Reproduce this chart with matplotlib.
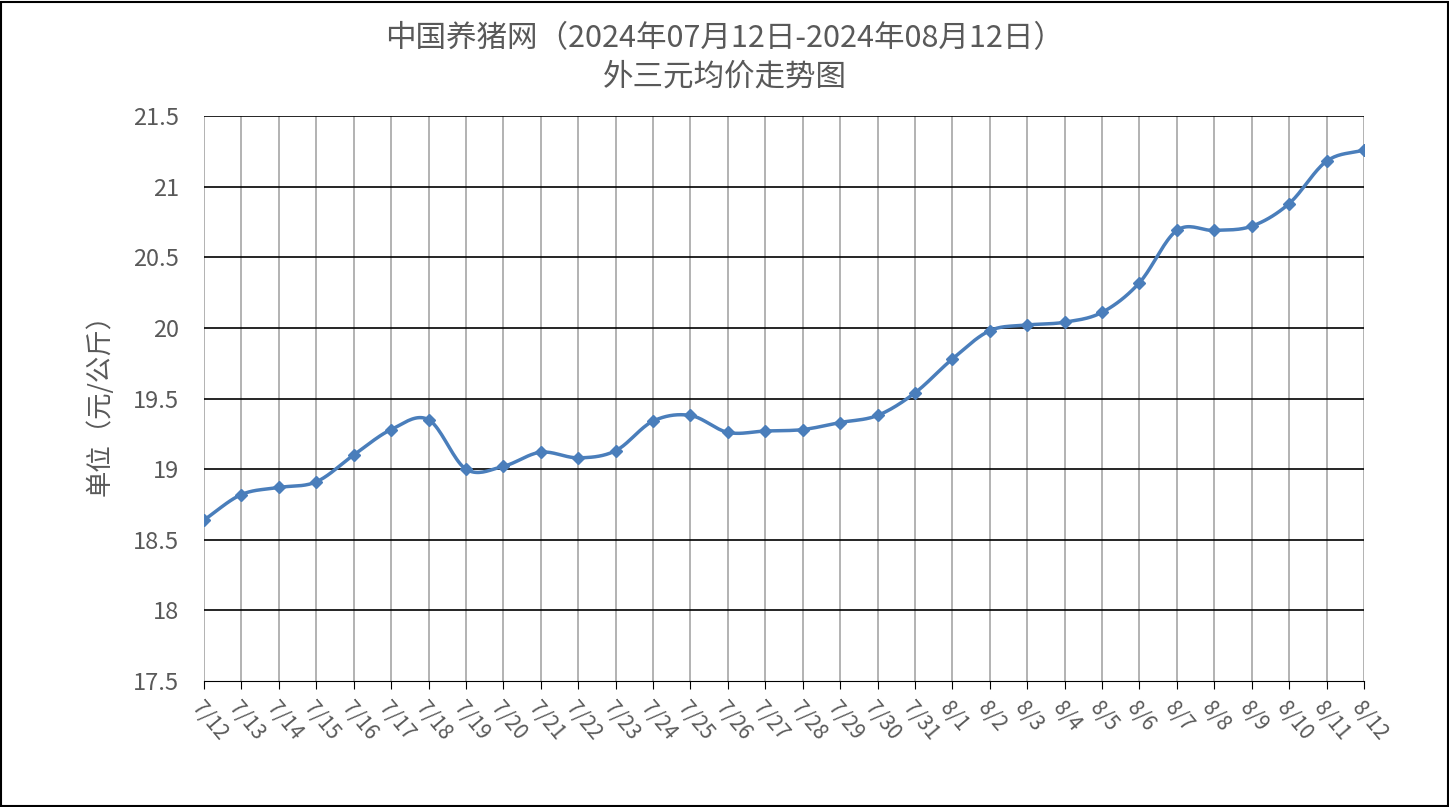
import numpy as np
import matplotlib
matplotlib.use('Agg')
import matplotlib.pyplot as plt

plt.rcParams['font.family'] = ['Noto Sans CJK SC', 'DejaVu Sans']

# DATA
dates = [f"7/{d}" for d in range(12, 32)] + [f"8/{d}" for d in range(1, 13)]
prices = [18.64, 18.82, 18.87, 18.91, 19.10, 19.28, 19.35, 19.00, 19.02, 19.12,
          19.08, 19.13, 19.34, 19.38, 19.26, 19.27, 19.28, 19.33, 19.38, 19.54,
          19.78, 19.98, 20.02, 20.04, 20.11, 20.32, 20.69, 20.69, 20.72, 20.88,
          21.18, 21.26]
yticks = [17.5, 18, 18.5, 19, 19.5, 20, 20.5, 21, 21.5]
ytick_labels = ['17.5', '18', '18.5', '19', '19.5', '20', '20.5', '21', '21.5']

LINE = '#4a7ebb'
TXT = '#595959'


def catmull(x, y, n=20):
    x = np.asarray(x, float); y = np.asarray(y, float)
    px = np.concatenate([[2 * x[0] - x[1]], x, [2 * x[-1] - x[-2]]])
    py = np.concatenate([[2 * y[0] - y[1]], y, [2 * y[-1] - y[-2]]])
    t = np.linspace(0, 1, n, endpoint=False)[:, None]
    out_x, out_y = [], []
    for i in range(1, len(px) - 2):
        for arr, out in ((px, out_x), (py, out_y)):
            p0, p1, p2, p3 = arr[i - 1:i + 3]
            v = 0.5 * ((2 * p1) + (-p0 + p2) * t + (2 * p0 - 5 * p1 + 4 * p2 - p3) * t ** 2
                       + (-p0 + 3 * p1 - 3 * p2 + p3) * t ** 3)
            out.extend(v.ravel())
    out_x.append(x[-1]); out_y.append(y[-1])
    return np.array(out_x), np.array(out_y)


fig = plt.figure(figsize=(14.49, 8.07), dpi=100)
ax = fig.add_axes([204 / 1449, 1 - 681 / 807, (1364 - 204) / 1449, (681 - 116) / 807])
fig.patches.append(plt.Rectangle((0.001, 0.001), 0.998, 0.997, transform=fig.transFigure,
                                 fill=False, edgecolor='black', linewidth=1.5))

xs = np.arange(len(dates))
sx, sy = catmull(xs, prices)
ax.plot(sx, sy, color=LINE, linewidth=2.5, zorder=3)
ax.plot(xs, prices, linestyle='none', marker='D', markersize=6, color=LINE, zorder=4)

ax.set_xlim(0, len(dates) - 1)
ax.set_ylim(17.5, 21.5)
ax.set_yticks(yticks)
ax.set_yticklabels(ytick_labels, fontsize=17, color=TXT)
ax.set_xticks(xs)
ax.set_xticklabels(dates, rotation=-50, ha='left', va='top', fontsize=15, color=TXT,
                   rotation_mode='anchor')
ax.tick_params(axis='y', length=0, pad=18)
ax.tick_params(axis='x', length=6, color='black', pad=6)

for v in xs:
    ax.axvline(v, color='#a6a6a6', linewidth=1.2, zorder=1)
for v in yticks[1:]:
    ax.axhline(v, color='black', linewidth=1.2, zorder=2)

for s in ['top', 'right', 'left']:
    ax.spines[s].set_visible(False)
ax.spines['bottom'].set_color('black')

ax.set_ylabel('单位（元/公斤）', fontsize=19, color=TXT, labelpad=14)
fig.text(0.5, 0.952, '中国养猪网（2024年07月12日-2024年08月12日）', ha='center', va='center',
         fontsize=22, color=TXT)
fig.text(0.5, 0.905, '外三元均价走势图', ha='center', va='center', fontsize=22, color=TXT)

fig.savefig('out.png', dpi=100)
